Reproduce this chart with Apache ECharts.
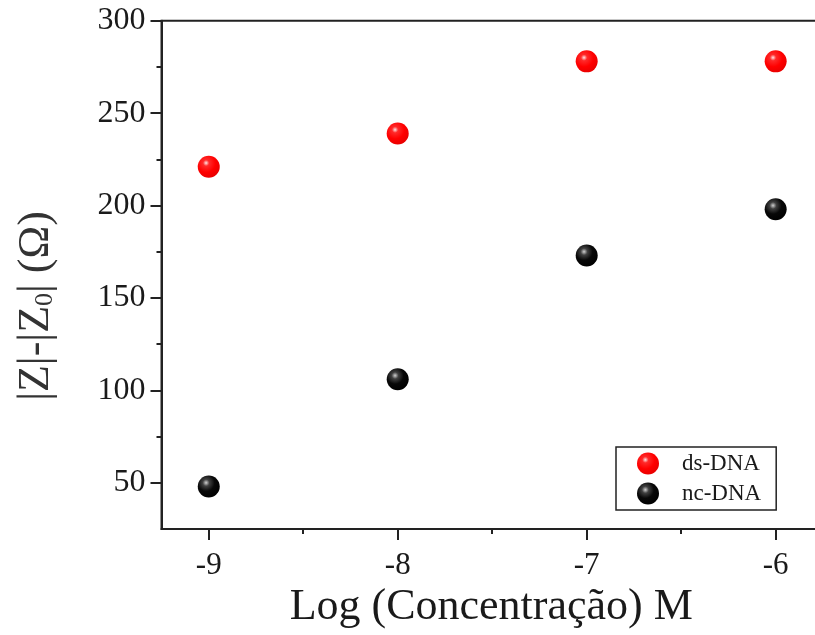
<!DOCTYPE html>
<html>
<head>
<meta charset="utf-8">
<script src="https://cdn.jsdelivr.net/npm/echarts@6/dist/echarts.min.js"></script>
<style>html,body{margin:0;padding:0;background:#fff;overflow:hidden;}#c{width:815px;height:635px;}</style>
</head>
<body>
<div id="c"></div>
<script>
// Data
var xValues = [-9, -8, -7, -6];
var dsDNA = [221, 239, 278, 278];
var ncDNA = [48, 106, 173, 198];
var xTicks = [-9, -8, -7, -6];
var xMinorTicks = [-8.5, -7.5, -6.5];
var yTicks = [50, 100, 150, 200, 250, 300];
var yMinorTicks = [75, 125, 175, 225, 275];
var seriesNames = ['ds-DNA', 'nc-DNA'];
var xTitle = 'Log (Concentração) M';

var FONT = '"Liberation Serif", "Times New Roman", serif';
var AX = '#222';

function pairs(xs, ys) { return xs.map(function (x, i) { return [x, ys[i]]; }); }

var redGrad = { type: 'radial', x: 0.38, y: 0.33, r: 0.7, colorStops: [
  { offset: 0, color: '#ffe6e6' }, { offset: 0.2, color: '#ff2a2a' }, { offset: 0.6, color: '#ff0000' }, { offset: 1, color: '#e80000' }] };
var blackGrad = { type: 'radial', x: 0.38, y: 0.33, r: 0.7, colorStops: [
  { offset: 0, color: '#d0d0d0' }, { offset: 0.22, color: '#404040' }, { offset: 0.55, color: '#080808' }, { offset: 1, color: '#000' }] };

var xMin = -9.25, xMax = -5.686, yMin = 25, yMax = 300;

var chart = echarts.init(document.getElementById('c'), null, { renderer: 'canvas' });
chart.setOption({
  animation: false,
  backgroundColor: '#fff',
  grid: { left: 161.5, right: -20, top: 20.7, bottom: 106, outerBoundsMode: 'none', containLabel: false,
    show: true, borderColor: AX, borderWidth: 2, backgroundColor: 'transparent' },
  xAxis: [
    { type: 'value', position: 'bottom', min: xMin, max: xMax,
      axisLine: { show: true, onZero: false, lineStyle: { color: AX, width: 2 } },
      axisTick: { show: true, inside: false, length: 11, customValues: xTicks, lineStyle: { color: AX, width: 2 } },
      axisLabel: { show: true, customValues: xTicks, margin: 21, fontFamily: FONT, fontSize: 31, color: '#1a1a1a' },
      splitLine: { show: false }, splitArea: { show: false },
      name: xTitle, nameLocation: 'middle', nameGap: 50,
      nameTextStyle: { fontFamily: FONT, fontSize: 44, color: '#1a1a1a', padding: [0, 14, 0, 0] } },
    { type: 'value', position: 'bottom', min: xMin, max: xMax,
      axisLine: { show: false, onZero: false },
      axisTick: { show: true, length: 5, customValues: xMinorTicks, lineStyle: { color: AX, width: 2 } },
      axisLabel: { show: false }, splitLine: { show: false }, splitArea: { show: false } }
  ],
  yAxis: [
    { type: 'value', position: 'left', min: yMin, max: yMax,
      axisLine: { show: true, onZero: false, lineStyle: { color: AX, width: 2 } },
      axisTick: { show: true, length: 11, customValues: yTicks, lineStyle: { color: AX, width: 2 } },
      axisLabel: { show: true, customValues: yTicks, margin: 16, fontFamily: FONT, fontSize: 32, color: '#1a1a1a' },
      splitLine: { show: false }, splitArea: { show: false } },
    { type: 'value', position: 'left', offset: 0, min: yMin, max: yMax,
      axisLine: { show: false, onZero: false },
      axisTick: { show: true, length: 5, customValues: yMinorTicks, lineStyle: { color: AX, width: 2 } },
      axisLabel: { show: false }, splitLine: { show: false }, splitArea: { show: false } }
  ],
  legend: {
    orient: 'vertical', left: 616, top: 447,
    padding: [5, 15, 5, 21], itemGap: 7, itemWidth: 22, itemHeight: 22,
    borderColor: AX, borderWidth: 1.5, backgroundColor: '#fff',
    icon: 'circle',
    textStyle: { fontFamily: FONT, fontSize: 23, color: '#1a1a1a', padding: [0, 0, 0, 18] },
    data: seriesNames
  },
  graphic: [{
    type: 'text', x: 36, y: 306, rotation: Math.PI / 2,
    style: {
      text: '|Z|-|Z{sub|0}| (Ω)',
      fontFamily: FONT, fontSize: 44, fill: '#333',
      align: 'center', verticalAlign: 'middle',
      rich: { sub: { fontFamily: FONT, fontSize: 26, fill: '#333', verticalAlign: 'bottom', padding: [18, 0, 0, 0] } }
    }
  }],
  series: [
    { name: seriesNames[0], type: 'scatter', xAxisIndex: 0, yAxisIndex: 0,
      symbol: 'circle', symbolSize: 22, data: pairs(xValues, dsDNA), itemStyle: { color: redGrad, opacity: 1 } },
    { name: seriesNames[1], type: 'scatter', xAxisIndex: 0, yAxisIndex: 0,
      symbol: 'circle', symbolSize: 22, data: pairs(xValues, ncDNA), itemStyle: { color: blackGrad, opacity: 1 } }
  ]
});
</script>
</body>
</html>
